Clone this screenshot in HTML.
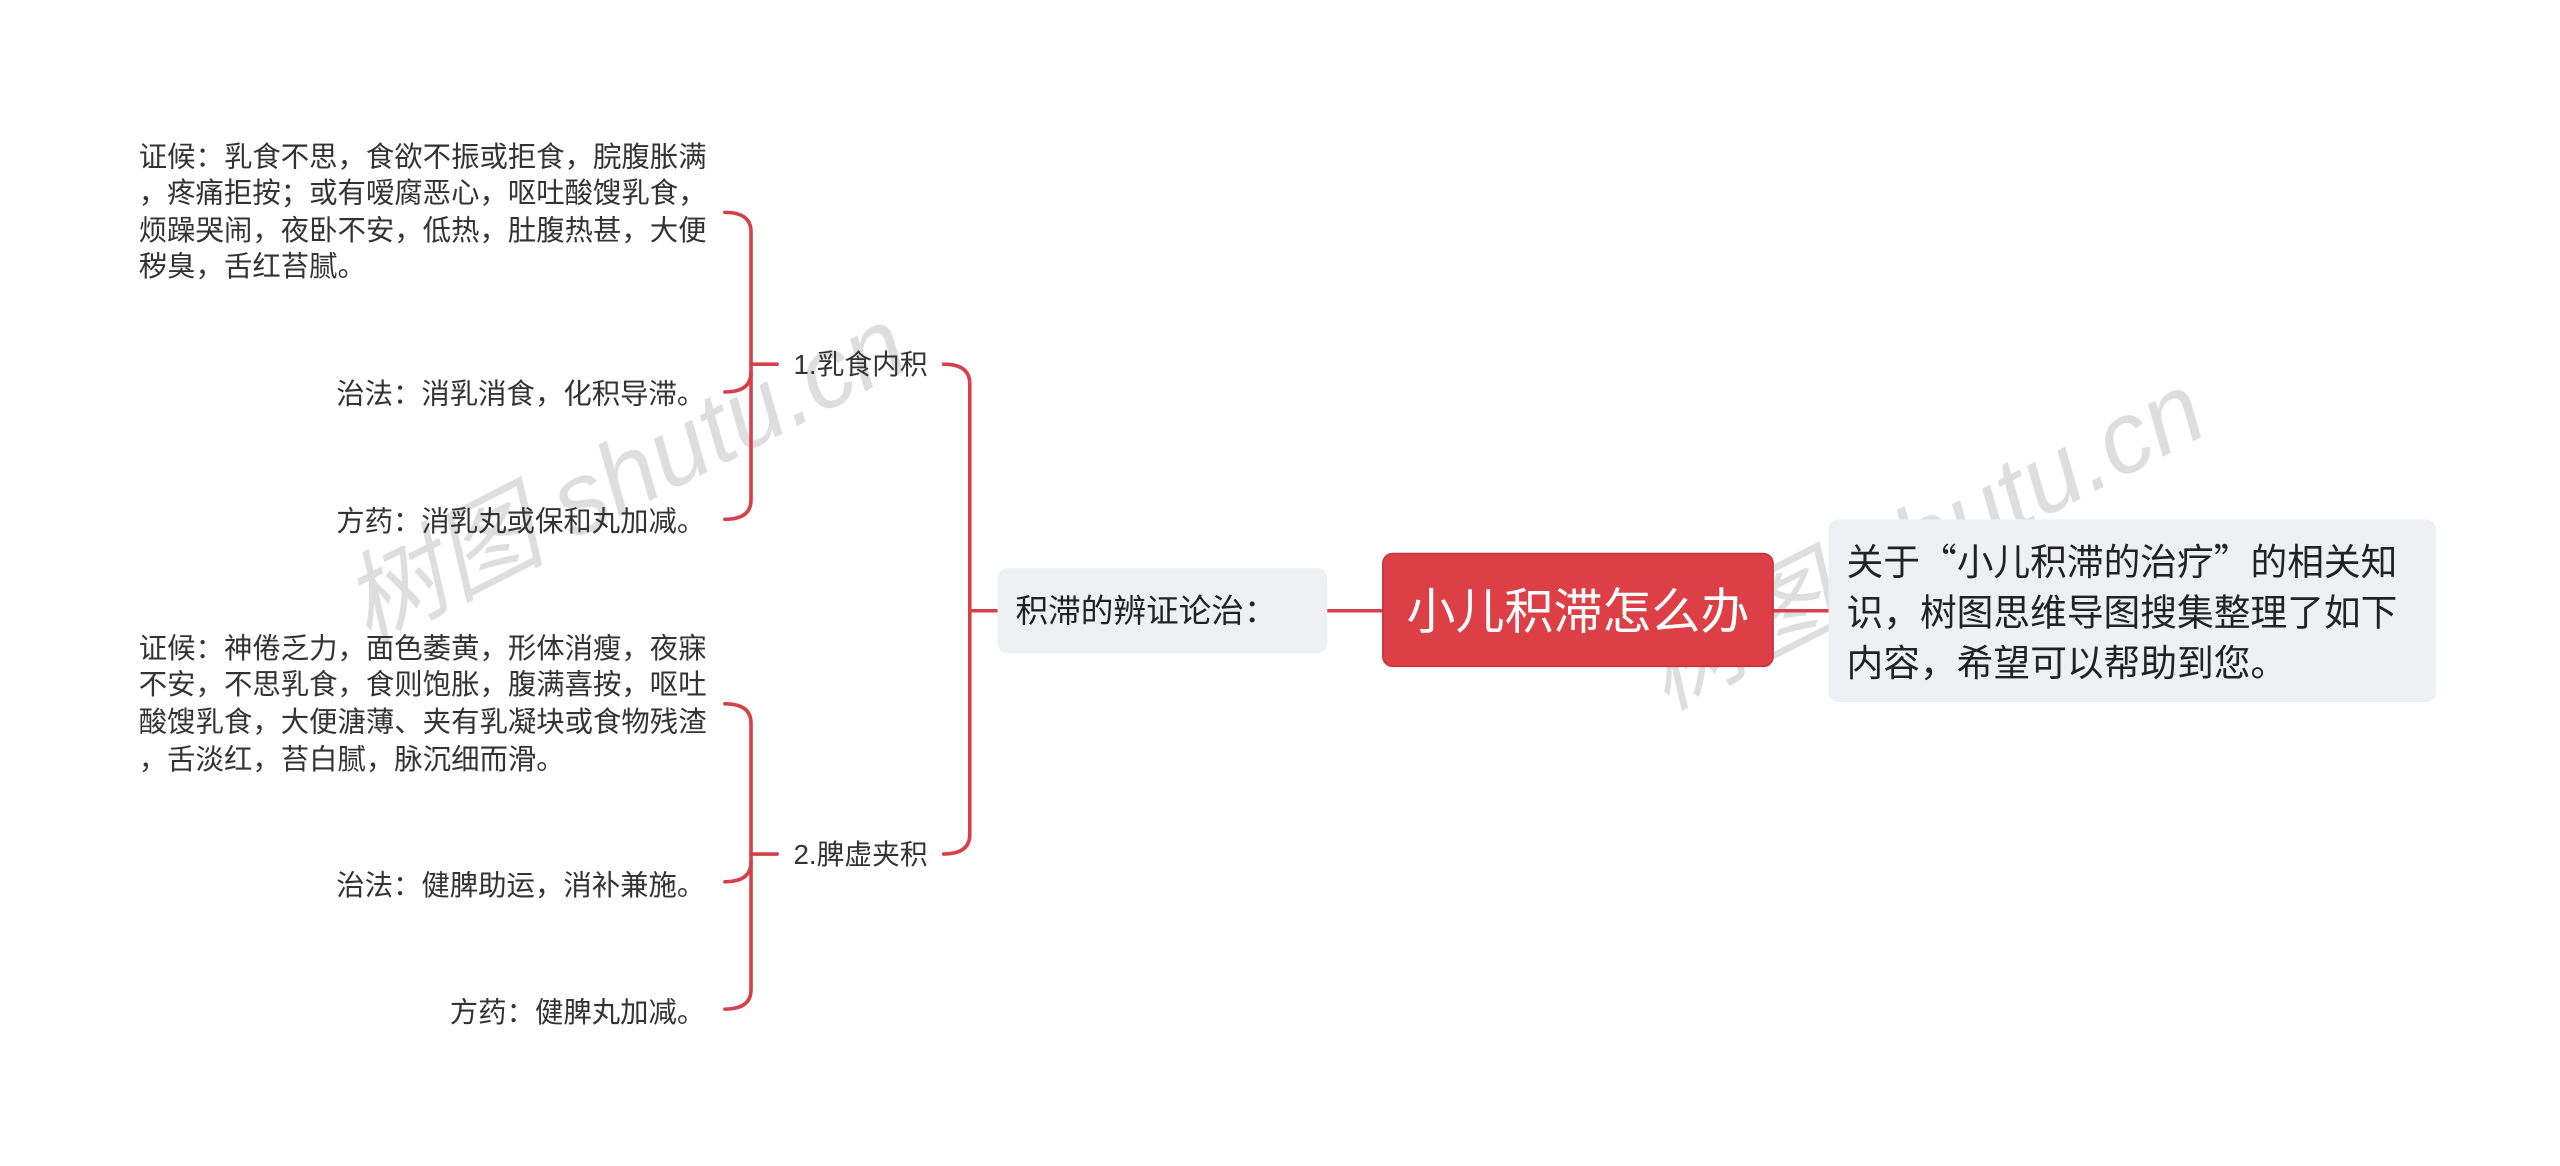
<!DOCTYPE html>
<html><head><meta charset="utf-8">
<style>
html,body{margin:0;padding:0;background:#fff;}
svg{display:block;}
text{font-family:"Liberation Sans","Noto Sans CJK SC",sans-serif;}
.q{font-family:"Noto Sans CJK SC",sans-serif;}
</style></head>
<body>
<svg width="2560" height="1166" viewBox="0 0 1568 714" xmlns="http://www.w3.org/2000/svg">
<rect width="1568" height="714" fill="#fff"/>
<g fill="#000" opacity="0.13" style="font-family:'Noto Serif CJK SC','Liberation Serif',serif;font-style:italic" font-size="62">
<text x="0" y="0" transform="translate(225,395) rotate(-27)">树图 shutu.cn</text>
<text x="0" y="0" transform="translate(1020,435) rotate(-27)">树图 shutu.cn</text>
</g>
<g fill="none" stroke="#d5404a" stroke-width="2.2" stroke-linecap="round">
<path d="M813,374 L847,374"/>
<path d="M1086,374 L1120,374"/>
<path d="M578,223 Q594,223 594,235 L594,511 Q594,523 578,523"/>
<path d="M594,374 L611,374"/>
<path d="M444,130 Q460,130 460,142 L460,306 Q460,318 444,318"/>
<path d="M444,240 Q460,240 460,228"/>
<path d="M460,223 L476,223"/>
<path d="M444,431 Q460,431 460,443 L460,606 Q460,618 444,618"/>
<path d="M444,540 Q460,540 460,528"/>
<path d="M460,523 L476,523"/>
</g>
<rect x="847" y="339" width="239" height="69" rx="6" fill="#dc3f45" stroke="#c9343b" stroke-width="1"/>
<text x="966.5" y="385" font-size="30" fill="#fff" text-anchor="middle">小儿积滞怎么办</text>
<rect x="1120" y="318" width="372" height="112" rx="6" fill="#eef1f4"/>
<g font-size="22.5" fill="#222">
<text x="1131" y="352">关于<tspan class="q">“</tspan>小儿积滞的治疗<tspan class="q">”</tspan>的相关知</text>
<text x="1131" y="383">识，树图思维导图搜集整理了如下</text>
<text x="1131" y="414">内容，希望可以帮助到您。</text>
</g>
<rect x="611" y="348" width="202" height="52" rx="6" fill="#eef1f4"/>
<text x="622" y="381" font-size="20" fill="#222">积滞的辨证论治：</text>
<g font-size="17" fill="#333">
<text x="486" y="229">1.乳食内积</text>
<text x="486" y="529">2.脾虚夹积</text>
</g>
<g font-size="17.4" fill="#333">
<text x="85" y="102">证候：乳食不思，食欲不振或拒食，脘腹胀满</text>
<text x="85" y="124">，疼痛拒按；或有嗳腐恶心，呕吐酸馊乳食，</text>
<text x="85" y="147">烦躁哭闹，夜卧不安，低热，肚腹热甚，大便</text>
<text x="85" y="169">秽臭，舌红苔腻。</text>
<text x="432" y="247" text-anchor="end">治法：消乳消食，化积导滞。</text>
<text x="432" y="325" text-anchor="end">方药：消乳丸或保和丸加减。</text>
<text x="85" y="403">证候：神倦乏力，面色萎黄，形体消瘦，夜寐</text>
<text x="85" y="425">不安，不思乳食，食则饱胀，腹满喜按，呕吐</text>
<text x="85" y="448">酸馊乳食，大便溏薄、夹有乳凝块或食物残渣</text>
<text x="85" y="471">，舌淡红，苔白腻，脉沉细而滑。</text>
<text x="432" y="548" text-anchor="end">治法：健脾助运，消补兼施。</text>
<text x="432" y="626" text-anchor="end">方药：健脾丸加减。</text>
</g>
</svg>
</body></html>
